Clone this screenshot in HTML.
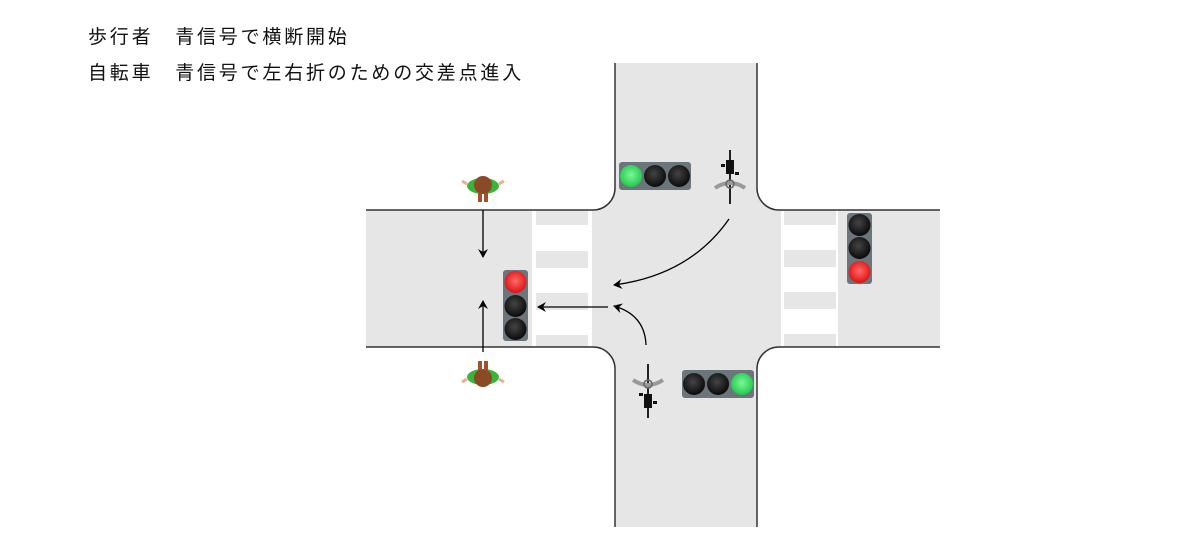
<!DOCTYPE html>
<html><head><meta charset="utf-8"><style>
body{margin:0;background:#fff;width:1200px;height:560px;overflow:hidden;position:relative}
.t{position:absolute;left:88px;font:19px "Liberation Sans","Noto Sans CJK JP",sans-serif;letter-spacing:2.8px;color:#111;white-space:nowrap}
</style></head><body>
<div class="t" style="top:22px">歩行者　青信号で横断開始</div>
<div class="t" style="top:58px">自転車　青信号で左右折のための交差点進入</div>
<svg width="1200" height="560" style="position:absolute;left:0;top:0">
<defs>
<marker id="a" markerWidth="10" markerHeight="10" refX="8" refY="5" orient="auto" markerUnits="userSpaceOnUse"><path d="M0,0 L9,5 L0,10 L3,5z" fill="#000"/></marker>
<radialGradient id="g" cx="50%" cy="45%" r="55%"><stop offset="0" stop-color="#7ff59a"/><stop offset="1" stop-color="#1fcc4a"/></radialGradient>
<radialGradient id="r" cx="50%" cy="45%" r="55%"><stop offset="0" stop-color="#ff6a6a"/><stop offset="1" stop-color="#e01010"/></radialGradient>
<radialGradient id="k" cx="45%" cy="40%" r="60%"><stop offset="0" stop-color="#444"/><stop offset="1" stop-color="#0a0a0a"/></radialGradient>
<g id="ped"><ellipse cx="0" cy="0" rx="16" ry="8" fill="#3ab53a"/><path d="M-16,-2 l-5,-3 M16,-2 l5,-3" stroke="#e8b090" stroke-width="3"/><circle cx="0" cy="-1" r="9" fill="#8a4a25"/><rect x="-5" y="7" width="4" height="9" fill="#a0522d"/><rect x="1" y="7" width="4" height="9" fill="#a0522d"/></g>
<g id="bike"><line x1="0" y1="-26" x2="0" y2="28" stroke="#222" stroke-width="2"/><rect x="-4" y="-16" width="8" height="14" fill="#111"/><rect x="-9" y="-12" width="4" height="3" fill="#111"/><rect x="5" y="-4" width="4" height="3" fill="#111"/><path d="M-15,12 Q0,2 15,12" stroke="#999" stroke-width="4" fill="none"/><circle cx="0" cy="8" r="4" fill="none" stroke="#666" stroke-width="1.5"/></g>
</defs>
<path d="M366,210 H593 A22,22 0 0 0 615,188 V63 H757 V188 A22,22 0 0 0 779,210 H940 V347 H779 A22,22 0 0 0 757,369 V527 H615 V369 A22,22 0 0 0 593,347 H366 Z" fill="#e6e6e6"/>
<path d="M366,210 H593 A22,22 0 0 0 615,188 V63 M757,63 V188 A22,22 0 0 0 779,210 H940 M940,347 H779 A22,22 0 0 0 757,369 V527 M615,527 V369 A22,22 0 0 0 593,347 H366" fill="none" stroke="#333" stroke-width="1.5"/>
<rect x="532" y="211" width="60" height="135" fill="#fff"/>
<g fill="#e6e6e6"><rect x="536" y="211" width="52" height="14"/><rect x="536" y="251" width="52" height="17"/><rect x="536" y="293" width="52" height="17"/><rect x="536" y="335" width="52" height="11"/></g>
<rect x="781" y="211" width="57" height="135" fill="#fff"/>
<g fill="#e6e6e6"><rect x="784" y="211" width="52" height="14"/><rect x="784" y="250" width="52" height="17"/><rect x="784" y="292" width="52" height="17"/><rect x="784" y="334" width="52" height="12"/></g>
<rect x="619" y="162" width="72" height="28" rx="3" fill="#6a767c"/>
<circle cx="631" cy="176" r="11" fill="url(#g)"/><circle cx="655" cy="176" r="11" fill="url(#k)"/><circle cx="679" cy="176" r="11" fill="url(#k)"/>
<rect x="682" y="370" width="72" height="28" rx="3" fill="#6a767c"/>
<circle cx="694" cy="384" r="11" fill="url(#k)"/><circle cx="718" cy="384" r="11" fill="url(#k)"/><circle cx="742" cy="384" r="11" fill="url(#g)"/>
<rect x="503" y="270" width="25" height="71" rx="3" fill="#6a767c"/>
<circle cx="515.5" cy="282" r="11" fill="url(#r)"/><circle cx="515.5" cy="306" r="11" fill="url(#k)"/><circle cx="515.5" cy="329" r="11" fill="url(#k)"/>
<rect x="847" y="213" width="25" height="71" rx="3" fill="#6a767c"/>
<circle cx="859.5" cy="225" r="11" fill="url(#k)"/><circle cx="859.5" cy="248" r="11" fill="url(#k)"/><circle cx="859.5" cy="272" r="11" fill="url(#r)"/>
<g stroke="#000" stroke-width="1.3" fill="none" marker-end="url(#a)">
<line x1="483" y1="210" x2="483" y2="257"/>
<line x1="483" y1="352" x2="483" y2="301"/>
<line x1="608" y1="307" x2="538" y2="307"/>
<path d="M729,219 Q690,275 614,285"/>
<path d="M646,345 Q645,315 614,306"/>
</g>
<use href="#ped" transform="translate(483,186)"/>
<use href="#ped" transform="translate(483,377) rotate(180)"/>
<use href="#bike" transform="translate(730,176)"/>
<use href="#bike" transform="translate(648,392) rotate(180)"/>
</svg>
</body></html>
